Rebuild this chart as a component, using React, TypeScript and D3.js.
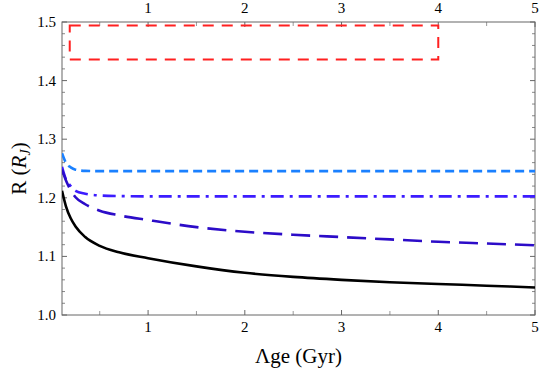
import React, { useRef, useEffect } from 'react';
import * as d3 from 'd3';

// age grid (Gyr) shared by every curve
const ages = [0.11, 0.15, 0.2, 0.25, 0.35, 0.5, 0.7, 1, 1.5, 2, 2.5, 3, 3.5, 4, 4.5, 5];

const radiusSolid = [1.212, 1.186, 1.165, 1.151, 1.133, 1.118, 1.107, 1.097, 1.083, 1.072, 1.065, 1.06, 1.056, 1.053, 1.05, 1.047];
const radiusLongDash = [1.248, 1.23, 1.213, 1.201, 1.189, 1.178, 1.17, 1.162, 1.15, 1.142, 1.137, 1.133, 1.129, 1.125, 1.122, 1.119];
const radiusDashDot = [1.253, 1.232, 1.22, 1.212, 1.207, 1.204, 1.203, 1.2025, 1.2025, 1.2025, 1.2025, 1.2025, 1.2025, 1.2025, 1.2025, 1.2025];
const radiusDashed = [1.276, 1.26, 1.252, 1.248, 1.246, 1.2455, 1.2455, 1.2455, 1.2455, 1.2455, 1.2455, 1.2455, 1.2455, 1.2455, 1.2455, 1.2455];

const xTicks = [1, 2, 3, 4, 5];
const yTicks = [1.0, 1.1, 1.2, 1.3, 1.4, 1.5];

// empty legend frame (age and radius corners)
const legendAge = [0.19, 4.0];
const legendR = [1.436, 1.494];

function App() {
  const svgRef = useRef<SVGSVGElement | null>(null);

  useEffect(() => {
    const width = 539;
    const height = 373;
    const margin = { top: 22, right: 4, bottom: 58, left: 62 };

    const svg = d3.select(svgRef.current).attr('width', width).attr('height', height);
    svg.selectAll('*').remove();

    const x = d3.scaleLinear().domain([0.11, 5]).range([margin.left, width - margin.right]);
    const y = d3.scaleLinear().domain([1.0, 1.5]).range([height - margin.bottom, margin.top]);

    const x0 = margin.left, x1 = width - margin.right;
    const y0 = height - margin.bottom, y1 = margin.top;
    const frame = '#666';

    svg.append('defs').append('clipPath').attr('id', 'plot-clip')
      .append('rect').attr('x', x0).attr('y', y1).attr('width', x1 - x0).attr('height', y0 - y1);

    // minor + major ticks, drawn inward on all four sides
    const xMinor = d3.range(0.5, 5.01, 0.5);
    xMinor.forEach(t => {
      const major = Math.abs(t - Math.round(t)) < 1e-6;
      const len = major ? 5 : 4;
      const col = major ? frame : '#999';
      svg.append('line').attr('x1', x(t)).attr('x2', x(t)).attr('y1', y0).attr('y2', y0 - len).attr('stroke', col);
      svg.append('line').attr('x1', x(t)).attr('x2', x(t)).attr('y1', y1).attr('y2', y1 + len).attr('stroke', col);
    });
    const yMinor = d3.range(1.0, 1.501, 0.02);
    yMinor.forEach(t => {
      const major = Math.abs(t * 10 - Math.round(t * 10)) < 1e-6;
      const len = major ? 5 : 3;
      const col = major ? frame : '#888';
      svg.append('line').attr('x1', x0).attr('x2', x0 + len).attr('y1', y(t)).attr('y2', y(t)).attr('stroke', col);
      svg.append('line').attr('x1', x1).attr('x2', x1 - len).attr('y1', y(t)).attr('y2', y(t)).attr('stroke', col);
    });

    svg.append('rect')
      .attr('x', x0).attr('y', y1).attr('width', x1 - x0).attr('height', y0 - y1)
      .attr('fill', 'none').attr('stroke', frame).attr('stroke-width', 1);

    const font = "'Times New Roman', 'Liberation Serif', 'DejaVu Serif', serif";

    // tick labels
    svg.append('g').selectAll('text.xb').data(xTicks).enter().append('text')
      .attr('x', d => x(d)).attr('y', y0 + 17).attr('text-anchor', 'middle')
      .style('font-family', font).style('font-size', '15px').text(d => d);
    svg.append('g').selectAll('text.xt').data(xTicks).enter().append('text')
      .attr('x', d => x(d)).attr('y', y1 - 9).attr('text-anchor', 'middle')
      .style('font-family', font).style('font-size', '15px').text(d => d);
    svg.append('g').selectAll('text.yl').data(yTicks).enter().append('text')
      .attr('x', x0 - 6).attr('y', d => y(d) + 5).attr('text-anchor', 'end')
      .style('font-family', font).style('font-size', '15px').text(d => d.toFixed(1));

    // axis titles
    svg.append('text')
      .attr('x', (x0 + x1) / 2).attr('y', height - 10).attr('text-anchor', 'middle')
      .style('font-family', font).style('font-size', '21px').text('Λge (Gyr)');
    const yl = svg.append('text')
      .attr('transform', `translate(26, ${(y0 + y1) / 2}) rotate(-90)`)
      .attr('text-anchor', 'middle').style('font-family', font).style('font-size', '21px');
    yl.append('tspan').text('R (');
    yl.append('tspan').attr('font-style', 'italic').text('R');
    yl.append('tspan').attr('font-style', 'italic').style('font-size', '14px').attr('dy', 4).text('J');
    yl.append('tspan').attr('dy', -4).text(')');

    const plot = svg.append('g').attr('clip-path', 'url(#plot-clip)');

    const line = d3.line<number>()
      .x((_, i) => x(ages[i]))
      .y(d => y(d))
      .curve(d3.curveMonotoneX);

    const series = [
      { values: radiusDashed, color: '#1a80ff', dash: '9,5' },
      { values: radiusDashDot, color: '#3c1cff', dash: '13,6,3,6' },
      { values: radiusLongDash, color: '#2c0cc8', dash: '19,9' },
      { values: radiusSolid, color: '#000000', dash: null },
    ];
    series.forEach(s => {
      plot.append('path')
        .attr('d', line(s.values))
        .attr('fill', 'none')
        .attr('stroke', s.color)
        .attr('stroke-width', 2.6)
        .attr('stroke-dasharray', s.dash);
    });

    // red dashed legend box
    plot.append('rect')
      .attr('x', x(legendAge[0])).attr('y', y(legendR[1]))
      .attr('width', x(legendAge[1]) - x(legendAge[0]))
      .attr('height', y(legendR[0]) - y(legendR[1]))
      .attr('fill', 'none').attr('stroke', '#ff2020').attr('stroke-width', 2)
      .attr('stroke-dasharray', '11,8');
  }, []);

  return (
    <div style={{ position: 'absolute', left: 0, top: 0 }}>
      <svg ref={svgRef} style={{ display: 'block' }}></svg>
    </div>
  );
}

export default App;
